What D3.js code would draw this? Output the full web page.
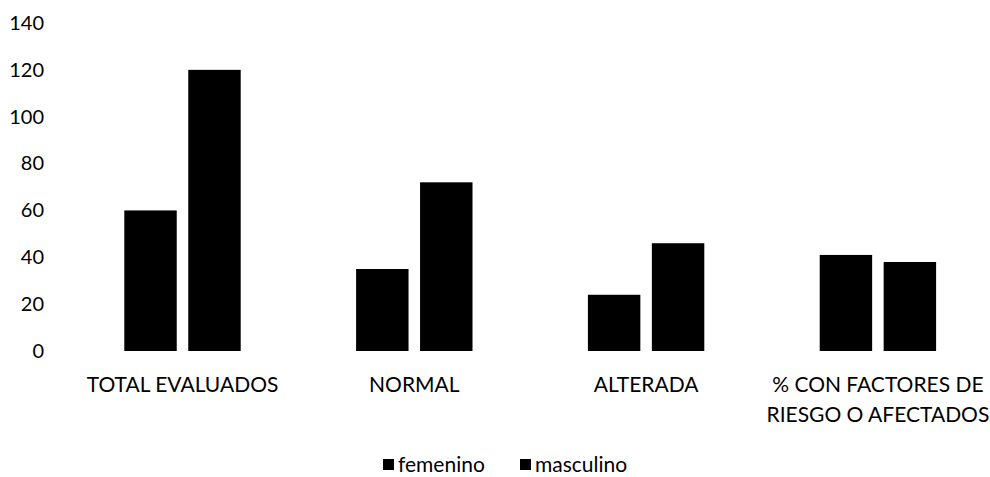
<!DOCTYPE html>
<html>
<head>
<meta charset="utf-8">
<script src="https://cdn.jsdelivr.net/npm/d3@7"></script>
<style>
  html, body { margin: 0; padding: 0; background: #fff; }
  svg { display: block; font-family: Lato, "Open Sans", sans-serif; }
</style>
</head>
<body>
<svg id="chart" width="990" height="477"></svg>
<script>
// Evaluated children by result and sex
const categories = ["TOTAL EVALUADOS", "NORMAL", "ALTERADA", "% CON FACTORES DE RIESGO O AFECTADOS"];
const seriesNames = ["femenino", "masculino"];
const femenino = [60, 35, 24, 41];
const masculino = [120, 72, 46, 38];
const yTicks = [0, 20, 40, 60, 80, 100, 120, 140];

const values = { femenino, masculino };
const colors = { femenino: "#000000", masculino: "#000000" };
const FONT = "Lato, 'Open Sans', sans-serif";

const svg = d3.select("#chart");

const x0 = d3.scaleBand().domain(categories).range([66.6, 993.8]).padding(0);
const x1 = d3.scaleBand().domain(seriesNames)
  .range([57.7, x0.bandwidth() - 57.7]).paddingInner(0.18).paddingOuter(0);
const y = d3.scaleLinear().domain([0, 140]).range([351, 23]);

// Y axis labels only (no axis line, no ticks, no gridlines)
const yAxis = svg.append("g")
  .attr("transform", "translate(44,0)")
  .call(d3.axisLeft(y).tickValues(yTicks).tickSize(0).tickPadding(0));
yAxis.select(".domain").remove();
yAxis.selectAll("text")
  .attr("font-size", 20)
  .attr("font-family", FONT)
  .attr("fill", "#000");

// Bars
const groups = svg.append("g").selectAll("g")
  .data(categories)
  .join("g")
  .attr("transform", d => `translate(${x0(d)},0)`);

groups.selectAll("rect")
  .data((d, i) => seriesNames.map(s => ({ s, v: values[s][i] })))
  .join("rect")
  .attr("x", d => x1(d.s))
  .attr("width", x1.bandwidth())
  .attr("y", d => y(d.v))
  .attr("height", d => y(0) - y(d.v))
  .attr("fill", d => colors[d.s]);

// Category labels, wrapped to fit the band
function wrap(textSel, width) {
  textSel.each(function() {
    const text = d3.select(this);
    const words = text.text().split(/\s+/);
    text.text(null);
    let line = [];
    let tspan = text.append("tspan").attr("x", 0).attr("dy", 0);
    for (const w of words) {
      line.push(w);
      tspan.text(line.join(" "));
      if (tspan.node().getComputedTextLength() > width && line.length > 1) {
        line.pop();
        tspan.text(line.join(" "));
        line = [w];
        tspan = text.append("tspan").attr("x", 0).attr("dy", 29.5).text(w);
      }
    }
  });
}

const xAxis = svg.append("g")
  .attr("transform", "translate(0,351)")
  .call(d3.axisBottom(x0).tickSize(0).tickPadding(0));
xAxis.select(".domain").remove();
xAxis.selectAll("text")
  .attr("y", 41)
  .attr("dy", 0)
  .attr("font-size", 21)
  .attr("font-family", FONT)
  .attr("fill", "#000")
  .call(wrap, 215);

// Legend
const legend = svg.append("g").attr("transform", "translate(0,465)");
const legendItems = [
  { name: "femenino", x: 383 },
  { name: "masculino", x: 520 }
];
legendItems.forEach(it => {
  legend.append("rect")
    .attr("x", it.x).attr("y", -6).attr("width", 11).attr("height", 11)
    .attr("fill", colors[it.name]);
  legend.append("text")
    .attr("x", it.x + 15).attr("y", 0).attr("dy", "0.35em")
    .attr("font-size", 21)
    .attr("font-family", FONT)
    .attr("fill", "#000")
    .text(it.name);
});

// Keep the last wrapped label's second line within the drawing
xAxis.selectAll("text").each(function() {
  const spans = d3.select(this).selectAll("tspan").nodes();
  if (spans.length > 2) {
    const rest = spans.slice(1).map(s => s.textContent).join(" ");
    spans.slice(2).forEach(s => s.remove());
    d3.select(spans[1]).text(rest);
  }
});
</script>
</body>
</html>
